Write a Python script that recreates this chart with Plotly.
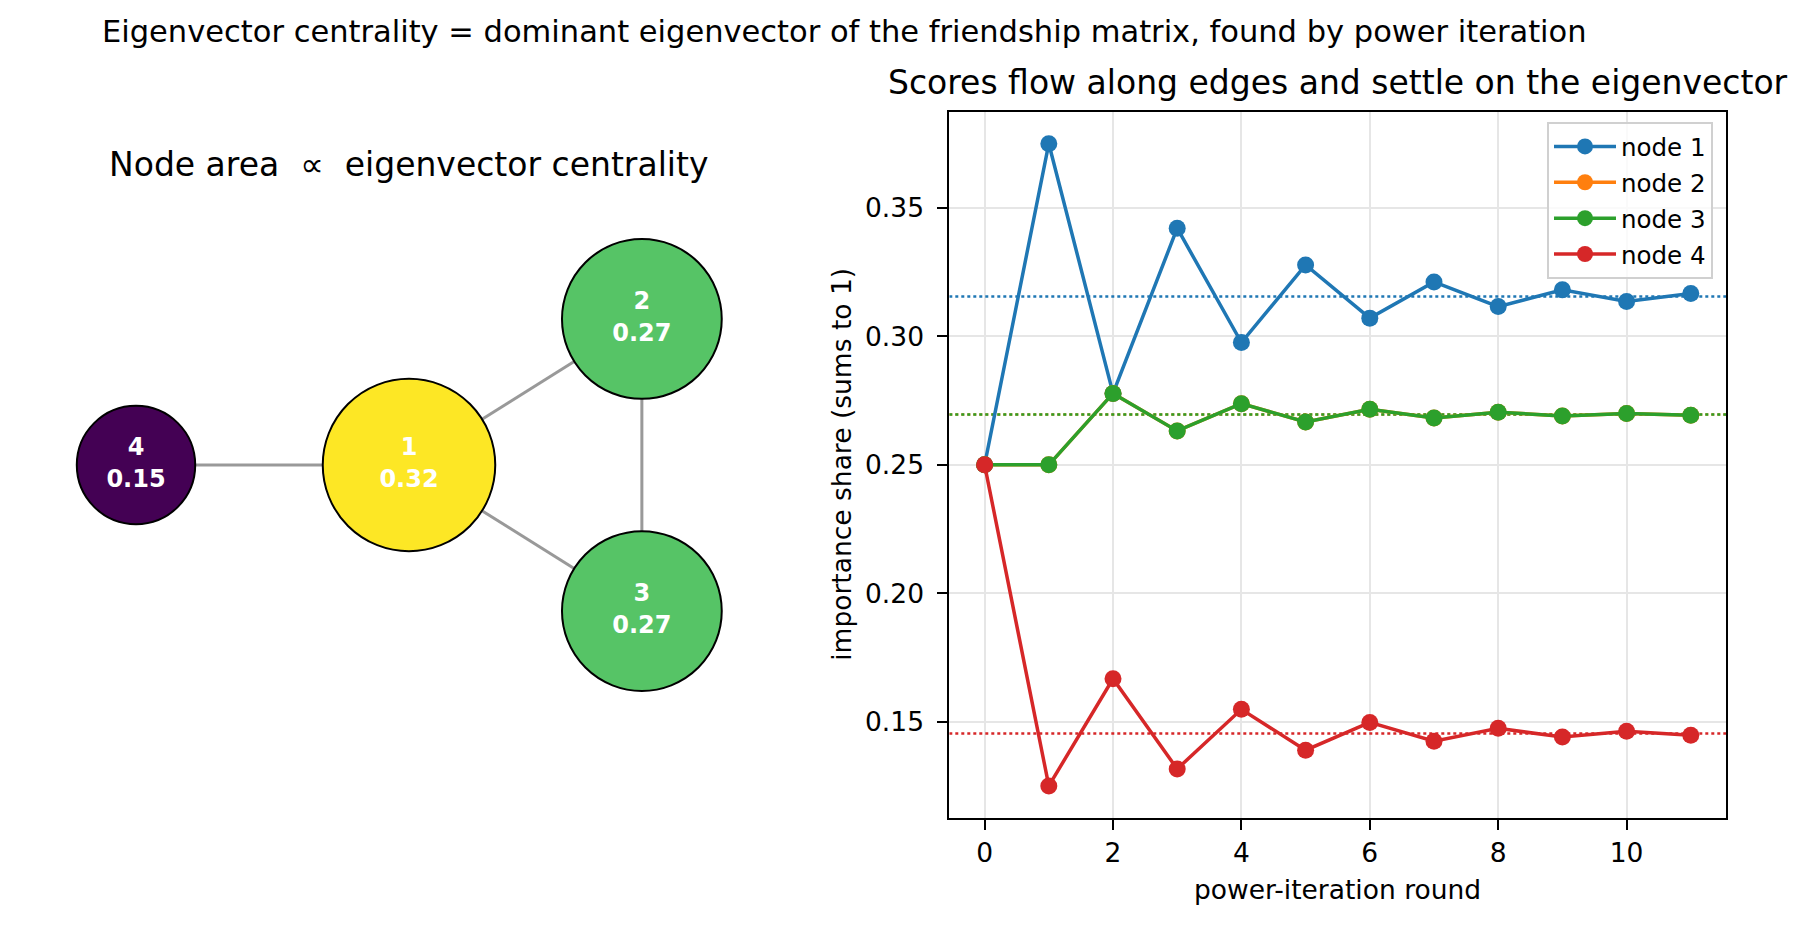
import math
import plotly.graph_objects as go

# ---------------- data ----------------
node_names = ["1", "2", "3", "4"]
node_x = [0.0, 0.853, 0.853, -1.0]
node_y = [0.0, 0.535, -0.535, 0.0]
edges = [(0, 1), (0, 2), (0, 3), (1, 2)]
centrality = [0.3155, 0.2696, 0.2696, 0.1454]

rounds = [0, 1, 2, 3, 4, 5, 6, 7, 8, 9, 10, 11]
share_node1 = [0.25, 0.375, 0.2778, 0.3421, 0.2976, 0.3278, 0.3071, 0.3212, 0.3116, 0.3181, 0.3136, 0.3167]
share_node2 = [0.25, 0.25, 0.2778, 0.2632, 0.2738, 0.2667, 0.2716, 0.2682, 0.2705, 0.2690, 0.2700, 0.2693]
share_node3 = [0.25, 0.25, 0.2778, 0.2632, 0.2738, 0.2667, 0.2716, 0.2682, 0.2705, 0.2690, 0.2700, 0.2693]
share_node4 = [0.25, 0.125, 0.1667, 0.1316, 0.1548, 0.1389, 0.1497, 0.1424, 0.1474, 0.1440, 0.1463, 0.1447]
series_names = ["node 1", "node 2", "node 3", "node 4"]
y_ticks = [0.15, 0.20, 0.25, 0.30, 0.35]
x_ticks = [0, 2, 4, 6, 8, 10]
x_range = [-0.55, 11.55]
y_range = [0.1125, 0.3875]

# ---------------- styles ----------------
FONT = "DejaVu Sans"
colors = ["#1f77b4", "#ff7f0e", "#2ca02c", "#d62728"]
W, H = 1812, 925

fig = go.Figure()

# ---- left panel: graph ----
ex, ey = [], []
for a, b in edges:
    ex += [node_x[a], node_x[b], None]
    ey += [node_y[a], node_y[b], None]
fig.add_trace(go.Scatter(x=ex, y=ey, mode="lines", xaxis="x", yaxis="y",
                         line=dict(color="#999999", width=3), showlegend=False,
                         hoverinfo="skip"))

labels = [f"{n}<br>{c:.2f}" for n, c in zip(node_names, centrality)]
sizes = [300 * math.sqrt(c) + 4 for c in centrality]
fig.add_trace(go.Scatter(
    x=node_x, y=node_y, mode="markers+text", xaxis="x", yaxis="y",
    text=labels, textposition="middle center",
    textfont=dict(family=FONT, size=24, color="white", weight="bold"),
    marker=dict(size=sizes, color=centrality, colorscale="Viridis",
                cmin=min(centrality), cmax=max(centrality),
                line=dict(color="black", width=2), opacity=1),
    showlegend=False, cliponaxis=False, hoverinfo="skip"))

# ---- right panel: power iteration ----
# dotted reference lines at the dominant eigenvector
for i, c in enumerate(centrality):
    fig.add_trace(go.Scatter(x=x_range, y=[c, c], mode="lines", xaxis="x2", yaxis="y2",
                             line=dict(color=colors[i], width=2.5, dash="dot"),
                             showlegend=False, hoverinfo="skip"))

all_series = [share_node1, share_node2, share_node3, share_node4]
for i, (name, vals) in enumerate(zip(series_names, all_series)):
    fig.add_trace(go.Scatter(
        x=rounds, y=vals, mode="lines+markers", name=name,
        xaxis="x2", yaxis="y2", legendgroup=name,
        line=dict(color=colors[i], width=3.5),
        marker=dict(color=colors[i], size=17),
        cliponaxis=False))

# pixel geometry
left_px, right_px = 949.3, 1726.1
top_px, bot_px = 111.6, 818.0
node1_px_x, node1_px_y, unit_px = 409.0, 465.0, 273.0
left_dom_w = 0.4 * W

annotations = [
    dict(text="Eigenvector centrality = dominant eigenvector of the friendship matrix, found by power iteration",
         x=844.5 / W, y=1 - 32 / H, xref="paper", yref="paper", showarrow=False,
         xanchor="center", yanchor="middle", font=dict(family=FONT, size=30.5, color="black")),
    dict(text="Scores flow along edges and settle on the eigenvector",
         x=(left_px + right_px) / 2 / W, y=1 - 83 / H, xref="paper", yref="paper", showarrow=False,
         xanchor="center", yanchor="middle", font=dict(family=FONT, size=33, color="black")),
    dict(text="Node area \u00a0\u221d\u00a0 eigenvector centrality",
         x=408 / W, y=1 - 165 / H, xref="paper", yref="paper", showarrow=False,
         xanchor="center", yanchor="middle", font=dict(family=FONT, size=33, color="black")),
    dict(text="power-iteration round",
         x=(left_px + right_px) / 2 / W, y=1 - 889 / H, xref="paper", yref="paper", showarrow=False,
         xanchor="center", yanchor="middle", font=dict(family=FONT, size=26.5, color="black")),
    dict(text="importance share (sums to 1)", textangle=-90,
         x=842 / W, y=1 - (top_px + bot_px) / 2 / H, xref="paper", yref="paper", showarrow=False,
         xanchor="center", yanchor="middle", font=dict(family=FONT, size=26.5, color="black")),
]

axis_common = dict(showline=True, linecolor="black", linewidth=2, mirror=True,
                   ticks="outside", ticklen=10, tickwidth=2, tickcolor="black",
                   showgrid=True, gridcolor="#e6e6e6", gridwidth=1.5, zeroline=False,
                   tickfont=dict(family=FONT, size=26.5, color="black"))

fig.update_layout(
    width=W, height=H, margin=dict(l=0, r=0, t=0, b=0),
    paper_bgcolor="white", plot_bgcolor="white",
    font=dict(family=FONT, color="black"),
    xaxis=dict(domain=[0, 0.4], visible=False,
               range=[-node1_px_x / unit_px, (left_dom_w - node1_px_x) / unit_px]),
    yaxis=dict(domain=[0, 1], visible=False,
               range=[-(H - node1_px_y) / unit_px, node1_px_y / unit_px]),
    xaxis2=dict(domain=[left_px / W, right_px / W], anchor="y2",
                range=x_range, tickvals=x_ticks, **axis_common),
    yaxis2=dict(domain=[1 - bot_px / H, 1 - top_px / H], anchor="x2",
                range=y_range, tickvals=y_ticks, tickformat=".2f",
                ticklabelstandoff=8, **axis_common),
    annotations=annotations,
    legend=dict(x=1713 / W, y=1 - 122 / H, xanchor="right", yanchor="top",
                bgcolor="rgba(255,255,255,0.8)", bordercolor="#d0d0d0", borderwidth=2,
                font=dict(family=FONT, size=24.5, color="black"),
                itemwidth=62, tracegroupgap=1, traceorder="grouped"),
)

fig.write_html("out.html")
